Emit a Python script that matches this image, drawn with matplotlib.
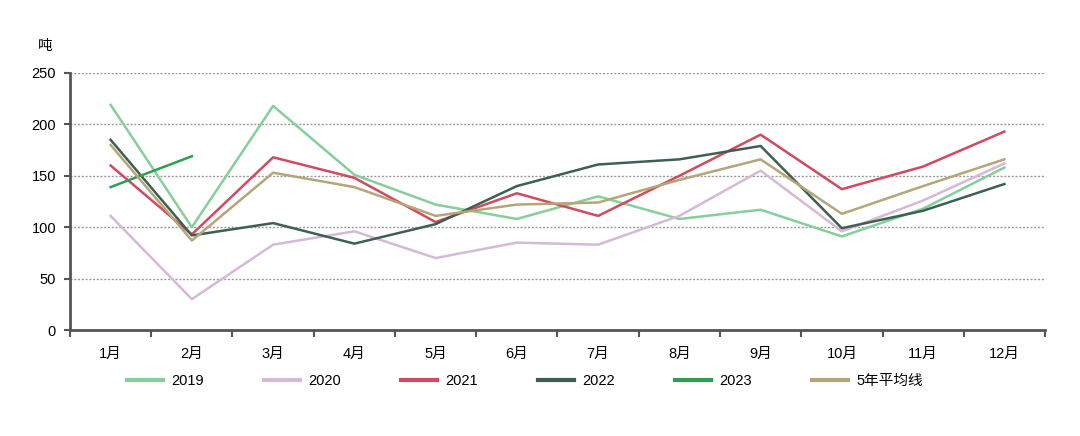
import numpy as np
import matplotlib.pyplot as plt

plt.rcParams['font.family'] = ['Liberation Sans', 'Noto Sans CJK SC', 'DejaVu Sans']

months = ["1月", "2月", "3月", "4月", "5月", "6月", "7月", "8月", "9月", "10月", "11月", "12月"]

y2019 = [219, 100, 218, 151, 122, 108, 130, 108, 117, 91, 118, 158]
y2020 = [111, 30, 83, 96, 70, 85, 83, 111, 155, 96, 126, 162]
y2021 = [160, 93, 168, 148, 105, 133, 111, 150, 190, 137, 159, 193]
y2022 = [185, 92, 104, 84, 103, 140, 161, 166, 179, 99, 116, 142]
y2023 = [139, 169]
avg5 = [180, 87, 153, 139, 111, 122, 124, 146, 166, 113, 140, 166]

series = [
    ("2019", y2019, "#86cf9b"),
    ("2020", y2020, "#d6b9d6"),
    ("2021", y2021, "#d04a60"),
    ("2022", y2022, "#3f5f53"),
    ("2023", y2023, "#2f9e50"),
    ("5年平均线", avg5, "#b4a679"),
]

fig = plt.figure(figsize=(10.8, 4.36), dpi=100)
ax = fig.add_axes([0.0648, 0.2431, 0.9028, 0.5895])

x = np.arange(len(months))
for name, vals, col in series:
    ax.plot(x[:len(vals)], vals, color=col, lw=1.8, label=name)

ax.set_xlim(-0.5, 11.5)
ax.set_ylim(0, 250)
ax.set_yticks([0, 50, 100, 150, 200, 250])
ax.yaxis.grid(True, linestyle=(0, (1.5, 1.2)), color="#9a9a9a", lw=1)
ax.set_axisbelow(True)

ax.set_xticks(x)
ax.set_xticklabels(months, fontsize=10.5)
ax.tick_params(axis="x", which="major", length=0, pad=12)
ax.set_xticks(np.arange(-0.5, 12, 1), minor=True)
ax.tick_params(axis="x", which="minor", length=5, width=1.5, color="#555555", direction="out")
ax.tick_params(axis="y", length=4, width=1.5, color="#555555", labelsize=10.5, pad=6)

for s in ["top", "right"]:
    ax.spines[s].set_visible(False)
for s in ["left", "bottom"]:
    ax.spines[s].set_color("#555555")
    ax.spines[s].set_linewidth(2)

fig.text(0.042, 0.895, "吨", fontsize=10.5, ha="center", va="center",
         family=['Noto Sans CJK SC', 'DejaVu Sans'])

leg = fig.legend(loc="center", bbox_to_anchor=(0.486, 0.126), ncol=6, frameon=False,
                 fontsize=10.5, handlelength=2.5, handletextpad=0.55, columnspacing=4.1)
for h in leg.legend_handles:
    h.set_linewidth(3)

fig.savefig("out.png", dpi=100)
